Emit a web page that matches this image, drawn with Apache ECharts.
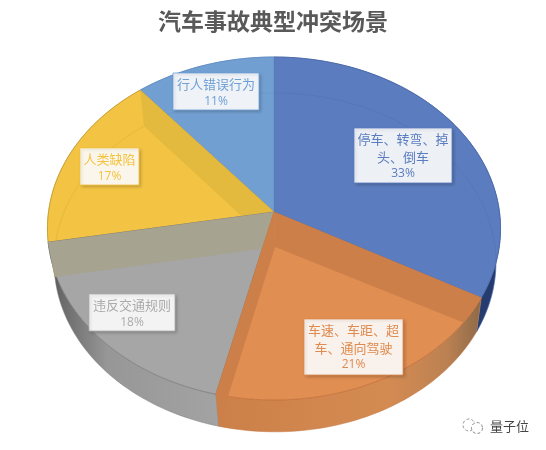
<!DOCTYPE html>
<html>
<head>
<meta charset="utf-8">
<title>汽车事故典型冲突场景</title>
<script src="https://cdn.jsdelivr.net/npm/echarts@6/dist/echarts.min.js"></script>
<style>
  html, body { margin: 0; padding: 0; background: #fff; }
  #main { width: 546px; height: 450px; }
</style>
</head>
<body>
<div id="main"></div>
<script>
  var chartTitle = '汽车事故典型冲突场景';
  var categories = ['停车、转弯、掉\n头、倒车', '车速、车距、超\n车、通向驾驶', '违反交通规则', '人类缺陷', '行人错误行为'];
  var shareValues = [33, 20.75, 18.45, 16.8, 11];

  // 3d look: a circle seen in perspective, top face and the bottom face below it
  var topFace = { cx: 274, cy: 212, a: 225.5, b: 169.9, k: 0.0961 };
  var bottomFace = { cx: 275, cy: 247, a: 220, b: 168, k: 0.091 };

  var faceColors = ['#5B7CBE', '#E08E52', '#A6A6A6', '#F3C343', '#729FD1'];
  var edgeColors = ['#4A68A8', '#C4713A', '#7F7F7F', '#BF9A33', '#5F8BC0'];
  var wallColors = ['#5B7CBE', '#CC7F49', '#A7A391', '#E3BA3E', '#729FD1'];
  var textColors = ['#5A7CC0', '#E08A4E', '#ABABAB', '#F5C342', '#6FA0D6'];
  var faceOrder = [10, 20, 16, 14, 12];
  var sideStops = [
    [[0, '#3F5E9F'], [1, '#24396B']],
    [[0, '#CC8049'], [0.65, '#D48B52'], [0.87, '#BC8152'], [1, '#8C6A48']],
    [[0, '#4C4C4C'], [0.08, '#6A6A6A'], [0.35, '#979797'], [1, '#A3A3A3']],
    [[0, '#F3C343'], [1, '#F3C343']],
    [[0, '#729FD1'], [1, '#729FD1']]
  ];
  // inner rim shows through these slices only
  var showsRim = [true, false, false, true, true];
  var labelBoxes = [
    { x: 354, y: 128, w: 98, h: 55 },
    { x: 304, y: 319, w: 99, h: 56 },
    { x: 89, y: 294, w: 86, h: 37 },
    { x: 80, y: 148, w: 59, h: 37 },
    { x: 173, y: 73, w: 86, h: 37 }
  ];

  var total = shareValues.reduce(function (s, v) { return s + v; }, 0);
  var running = 0;
  var seriesData = shareValues.map(function (v, i) {
    var row = [i, running / total, (running + v) / total];
    running += v;
    return row;
  });

  function project(face, frac) {
    var t = frac * Math.PI * 2;
    var d = 1 + face.k * Math.cos(t);
    return [face.cx + face.a * Math.sin(t) / d, face.cy - face.b * Math.cos(t) / d];
  }

  function arc(face, from, to) {
    var pts = [];
    var n = Math.max(4, Math.ceil((to - from) * 240));
    for (var i = 0; i <= n; i++) {
      pts.push(project(face, from + (to - from) * i / n));
    }
    return pts;
  }

  function wallQuad(frac, color, z2) {
    return {
      type: 'polygon',
      z2: z2,
      shape: {
        points: [
          [topFace.cx, topFace.cy],
          project(topFace, frac),
          project(bottomFace, frac),
          [bottomFace.cx, bottomFace.cy]
        ]
      },
      style: { fill: color }
    };
  }

  // same wall but cut off at the top rim, so the outer wall stays visible past it
  function wallOnFace(frac, to, color, z2) {
    var end = project(bottomFace, frac);
    var apexB = [bottomFace.cx, bottomFace.cy];
    var rim = [];
    var pts = arc(topFace, frac, to);
    for (var i = 0; i < pts.length; i++) {
      var side = (end[0] - apexB[0]) * (pts[i][1] - apexB[1]) - (end[1] - apexB[1]) * (pts[i][0] - apexB[0]);
      if (side > 0) {
        break;
      }
      rim.push(pts[i]);
    }
    return {
      type: 'polygon',
      z2: z2,
      shape: { points: [[topFace.cx, topFace.cy]].concat(rim).concat([apexB]) },
      style: { fill: color }
    };
  }

  function renderSlice(params, api) {
    var i = api.value(0);
    var from = api.value(1);
    var to = api.value(2);
    var topArc = arc(topFace, from, to);
    var bottomArc = arc(bottomFace, from, to);
    var apexT = [topFace.cx, topFace.cy];
    var z = faceOrder[i];
    var children = [];

    // outer wall
    children.push({
      type: 'polygon',
      z2: 1,
      shape: { points: topArc.concat(bottomArc.slice().reverse()) },
      style: {
        fill: new echarts.graphic.LinearGradient(0, 0, 1, 0, sideStops[i].map(function (s) {
          return { offset: s[0], color: s[1] };
        })),
        stroke: edgeColors[i],
        lineWidth: 0.5
      }
    });
    // top face
    children.push({
      type: 'polygon',
      z2: z,
      shape: { points: [apexT].concat(topArc) },
      style: { fill: faceColors[i], stroke: edgeColors[i], lineWidth: 0.8 }
    });
    // inner walls seen through the top face
    if (i === 1) {
      children.push(wallOnFace(from, to, wallColors[1], z + 1));
      children.push(wallQuad(to, wallColors[1], z + 1));
    }
    if (i === 2) {
      children.push(wallQuad(to, wallColors[2], z + 1));
    }
    if (i === 3) {
      children.push(wallQuad(to, wallColors[3], z + 1));
    }
    if (showsRim[i]) {
      children.push({
        type: 'polyline',
        z2: z + 1,
        shape: { points: bottomArc },
        style: { fill: null, stroke: edgeColors[i], lineWidth: 0.7, opacity: 0.4 }
      });
    }

    // data label
    var box = labelBoxes[i];
    var pct = Math.round(shareValues[i] / total * 100) + '%';
    var lines = categories[i].split('\n');
    children.push({
      type: 'rect',
      z2: 40,
      shape: { x: box.x, y: box.y, width: box.w, height: box.h },
      style: {
        fill: 'rgba(255,255,255,0.9)',
        stroke: textColors[i],
        lineWidth: 0.8,
        shadowBlur: 3,
        shadowOffsetX: 1.5,
        shadowOffsetY: 1.5,
        shadowColor: 'rgba(0,0,0,0.2)'
      }
    });
    lines.forEach(function (line, n) {
      children.push({
        type: 'text',
        z2: 41,
        x: box.x + box.w / 2,
        y: box.y + 11.5 + n * 17.5,
        style: {
          text: line,
          fill: textColors[i],
          align: 'center',
          verticalAlign: 'middle',
          font: '13px "Noto Sans CJK SC"'
        }
      });
    });
    children.push({
      type: 'text',
      z2: 41,
      x: box.x + box.w / 2,
      y: box.y + 11.5 + lines.length * 17.5 - 0.5,
      style: {
        text: pct,
        fill: textColors[i],
        align: 'center',
        verticalAlign: 'middle',
        font: '12px "Open Sans"'
      }
    });

    return { type: 'group', children: children };
  }

  var chart = echarts.init(document.getElementById('main'), null, { renderer: 'canvas' });
  chart.setOption({
    animation: false,
    backgroundColor: '#fff',
    title: {
      text: chartTitle,
      left: 'center',
      top: 5,
      textStyle: {
        fontFamily: '"Noto Sans CJK SC"',
        fontSize: 23,
        fontWeight: 'bold',
        color: '#595959'
      }
    },
    graphic: [
      { type: 'circle', shape: { cx: 469, cy: 425, r: 6 }, style: { fill: '#fff', stroke: '#9a9a9a', lineWidth: 1, lineDash: [3, 2] } },
      { type: 'circle', shape: { cx: 477, cy: 428, r: 5.5 }, style: { fill: '#fff', stroke: '#8a8a8a', lineWidth: 1, lineDash: [3, 2] } },
      {
        type: 'text',
        x: 490,
        y: 426,
        style: {
          text: '量子位',
          fill: '#444',
          stroke: '#fff',
          lineWidth: 1,
          verticalAlign: 'middle',
          font: '13px "Noto Sans CJK SC"'
        }
      }
    ],
    series: [{
      type: 'custom',
      coordinateSystem: 'none',
      silent: true,
      clip: false,
      renderItem: renderSlice,
      data: seriesData
    }]
  });
</script>
</body>
</html>
